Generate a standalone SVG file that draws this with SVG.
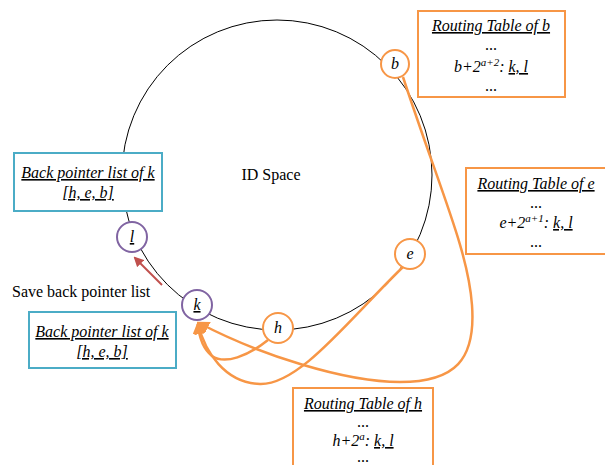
<svg xmlns="http://www.w3.org/2000/svg" width="605" height="465" viewBox="0 0 605 465">
<defs>
<style>
.t{font-family:"Liberation Serif","Times New Roman",serif;font-size:16px;fill:#000}
.i{font-style:italic}
.u{text-decoration:underline}
.rt{fill:#fff;stroke:#F79646;stroke-width:2}
.bp{fill:#fff;stroke:#4BACC6;stroke-width:2}
.no{fill:#fff;stroke:#F79646;stroke-width:2}
.nk{fill:#fff;stroke:#8064A2;stroke-width:2}
.c{fill:none;stroke:#F79646;stroke-width:2.5}
</style>
<marker id="ao" viewBox="0 0 10 10" refX="8" refY="5" markerWidth="5" markerHeight="5" orient="auto" markerUnits="strokeWidth">
<path d="M0,0 L10,5 L0,10 z" fill="#F79646"/>
</marker>
<marker id="ar" viewBox="0 0 10 10" refX="8" refY="5" markerWidth="5" markerHeight="5" orient="auto" markerUnits="strokeWidth">
<path d="M0,0 L10,5 L0,10 z" fill="#C0504D"/>
</marker>
</defs>
<ellipse id="ring" cx="277" cy="175" rx="155" ry="155" fill="none" stroke="#000" stroke-width="1"/>
<text class="t" x="271" y="180" text-anchor="middle">ID Space</text>
<g id="connectors">
<path class="c" d="M268,340 C248,356 225,365 212,356 C203,349 199,336 198,324" marker-end="url(#ao)"/>
<path class="c" d="M404,266 C350,318 300,385 260,384 C225,383 205,352 198,324" marker-end="url(#ao)"/>
<path class="c" d="M403,77 C440,190 468,250 472,305 C476,360 455,382 400,382 C345,382 260,355 199,323" marker-end="url(#ao)"/>
<line x1="162" y1="285" x2="135" y2="258" stroke="#C0504D" stroke-width="2" marker-end="url(#ar)"/>
</g>
<g id="node-b"><circle class="no" cx="395" cy="64" r="14"/><text class="t i" x="395" y="69" text-anchor="middle">b</text></g>
<g id="node-e"><circle class="no" cx="410" cy="254" r="15"/><text class="t i" x="410" y="259" text-anchor="middle">e</text></g>
<g id="node-h"><circle class="no" cx="278" cy="328" r="15"/><text class="t i" x="278" y="333" text-anchor="middle">h</text></g>
<g id="node-k"><circle class="nk" cx="197" cy="305" r="15"/><text class="t i u" x="197" y="310" text-anchor="middle">k</text></g>
<g id="node-l"><circle class="nk" cx="132" cy="237" r="15"/><text class="t i u" x="132" y="242" text-anchor="middle">l</text></g>
<g id="rt-b">
<rect class="rt" x="418" y="11" width="147" height="86"/>
<text class="t i u" x="491" y="31" text-anchor="middle">Routing Table of b</text>
<text class="t" x="491" y="50" text-anchor="middle">...</text>
<text class="t i" x="491" y="72" text-anchor="middle">b+2<tspan font-size="11" dy="-6">a+2</tspan><tspan dy="6">: </tspan><tspan class="u">k, l</tspan></text>
<text class="t" x="491" y="91" text-anchor="middle">...</text>
</g>
<g id="rt-e">
<rect class="rt" x="466" y="168" width="141" height="86"/>
<text class="t i u" x="536" y="189" text-anchor="middle">Routing Table of e</text>
<text class="t" x="536" y="208" text-anchor="middle">...</text>
<text class="t i" x="536" y="228" text-anchor="middle">e+2<tspan font-size="11" dy="-6">a+1</tspan><tspan dy="6">: </tspan><tspan class="u">k, l</tspan></text>
<text class="t" x="536" y="247" text-anchor="middle">...</text>
</g>
<g id="rt-h">
<rect class="rt" x="293" y="388" width="140" height="80"/>
<text class="t i u" x="363" y="409" text-anchor="middle">Routing Table of h</text>
<text class="t" x="363" y="427" text-anchor="middle">...</text>
<text class="t i" x="363" y="446" text-anchor="middle">h+2<tspan font-size="11" dy="-6">a</tspan><tspan dy="6">: </tspan><tspan class="u">k, l</tspan></text>
<text class="t" x="363" y="462" text-anchor="middle">...</text>
</g>
<g id="bp-top">
<rect class="bp" x="14" y="153" width="148" height="58"/>
<text class="t i u" x="88" y="178" text-anchor="middle">Back pointer list of k</text>
<text class="t i u" x="88" y="198" text-anchor="middle">[h, e, b]</text>
</g>
<g id="bp-bottom">
<rect class="bp" x="29" y="312" width="147" height="56"/>
<text class="t i u" x="102" y="337" text-anchor="middle">Back pointer list of k</text>
<text class="t i u" x="102" y="357" text-anchor="middle">[h, e, b]</text>
</g>
<text id="save-label" class="t" x="12" y="297">Save back pointer list</text>
</svg>
